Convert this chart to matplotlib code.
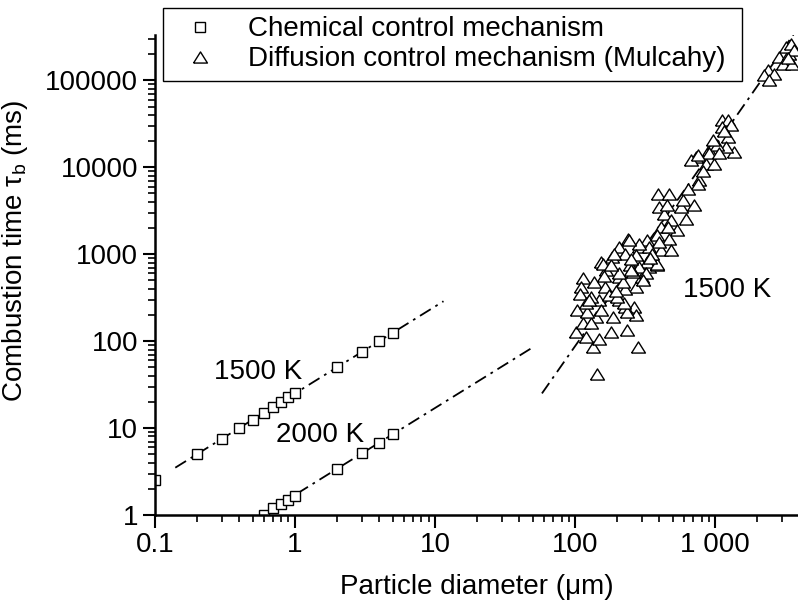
import numpy as np
import matplotlib
matplotlib.use('Agg')
import matplotlib.pyplot as plt
from matplotlib.ticker import LogLocator, FuncFormatter, NullFormatter

plt.rcParams['font.family'] = ['Liberation Sans', 'DejaVu Sans']
plt.rcParams['mathtext.fontset'] = 'custom'
plt.rcParams['mathtext.rm'] = 'Liberation Sans'
plt.rcParams['mathtext.it'] = 'Liberation Sans:italic'

# chemical control, 1500 K
d_1500 = [0.1, 0.2, 0.3, 0.4, 0.5, 0.6, 0.7, 0.8, 0.9, 1, 2, 3, 4, 5]
tau_1500 = [2.5, 5, 7.5, 10, 12.5, 15, 17.5, 20, 22.5, 25, 50, 75, 100, 125]
# chemical control, 2000 K
d_2000 = [0.6, 0.7, 0.8, 0.9, 1, 2, 3, 4, 5]
tau_2000 = [1.0, 1.2, 1.35, 1.5, 1.65, 3.4, 5.1, 6.8, 8.5]

# diffusion control (Mulcahy), 1500 K
d_mul = [143, 280, 135, 102, 119, 147, 180, 236, 263, 104, 113, 113, 110, 108,
         137, 154, 183, 206, 240, 164, 206, 148, 174, 206, 228, 186, 140, 129,
         122, 270, 299, 337, 387, 286, 248, 228, 286, 324, 413, 392, 465, 397,
         432, 455, 484, 413, 387, 166, 129, 119, 270, 228, 728, 670, 906, 984,
         859, 984, 769, 748, 708, 617, 569, 538, 469, 457, 483, 398, 337, 286,
         243, 157, 328, 387, 286, 257, 320, 1127, 1225, 1294, 1127, 1225, 1368,
         1192, 1038, 957, 906, 748, 1068, 2366, 2240, 2640, 2860, 3380, 3200,
         3470, 3030, 3560, 3665, 2430, 153, 236, 224, 200, 218, 303, 250, 206,
         180, 190, 270, 356, 160, 195, 125, 250, 345, 590, 640, 820, 1150, 3300]
tau_mul = [42, 86, 86, 128, 112, 107, 128, 134, 248, 227, 160, 526, 421, 353,
           479, 815, 930, 1213, 1478, 421, 550, 296, 338, 296, 248, 190, 190, 160,
           217, 421, 550, 714, 748, 851, 748, 1018, 1213, 1446, 1111, 4990, 4990, 3500,
           2930, 3660, 2460, 2060, 1652, 655, 323, 271, 199, 403, 13130, 12030, 15670, 18720,
           11040, 11040, 7080, 6460, 3660, 2570, 3500, 1890, 1515, 2060, 1111, 1385, 1213, 1318,
           1446, 780, 815, 780, 714, 626, 600, 34700, 34700, 30400, 29000, 22300, 15000,
           17100, 17900, 20400, 14400, 13700, 14400, 130000, 114000, 119000, 185000, 202000, 241000,
           264000, 156000, 156000, 221000, 100000, 227, 217, 271, 323, 479, 503, 655, 600,
           748, 1018, 975, 1018, 560, 380, 300, 880, 900, 4200, 5600, 9000, 26000, 180000]

# power-law fits tau = k * d^n and the diameter range each is drawn over
fit_1500 = (25.0, 1.0, [0.14, 11.5])
fit_2000 = (1.7, 1.0, [0.5, 48])
fit_mul = (2.2e-3, 2.3, [58, 4000])

fig = plt.figure(figsize=(7.98, 6.08), dpi=100)
ax = fig.add_axes([0.194, 0.153, 0.806, 0.789])

dash = (0, (7, 3, 1.5, 3))
for k, n, rng in (fit_1500, fit_2000, fit_mul):
    dd = np.array(rng, dtype=float)
    ax.plot(dd, k * dd ** n, color='black', lw=1.3, linestyle=dash)

tri = [(-1, -0.8), (1, -0.8), (0, 0.8), (-1, -0.8)]
ax.plot(d_1500, tau_1500, 's', ms=6.5, mfc='white', mec='black', mew=1.0)
ax.plot(d_2000, tau_2000, 's', ms=6.5, mfc='white', mec='black', mew=1.0)
ax.plot(d_mul, tau_mul, linestyle='none', marker=tri, ms=10, mfc='white',
        mec='black', mew=1.0)

ax.set_xscale('log')
ax.set_yscale('log')
ax.set_xlim(0.1, 3900)
ax.set_ylim(1, 3.3e5)

ax.xaxis.set_major_locator(LogLocator(base=10, numticks=20))
ax.xaxis.set_minor_locator(LogLocator(base=10, subs=np.arange(2, 10), numticks=20))
ax.yaxis.set_major_locator(LogLocator(base=10, numticks=20))
ax.yaxis.set_minor_locator(LogLocator(base=10, subs=np.arange(2, 10), numticks=20))
ax.xaxis.set_minor_formatter(NullFormatter())
ax.yaxis.set_minor_formatter(NullFormatter())


def xfmt(v, pos):
    if v < 1:
        return '%g' % v
    return '{:,}'.format(int(round(v))).replace(',', ' ')


ax.xaxis.set_major_formatter(FuncFormatter(xfmt))
ax.yaxis.set_major_formatter(FuncFormatter(lambda v, p: '%d' % round(v)))

for s in ('top', 'right'):
    ax.spines[s].set_visible(False)
for s in ('left', 'bottom'):
    ax.spines[s].set_linewidth(1.8)
ax.tick_params(which='major', direction='out', length=9, width=1.5,
               labelsize=20, pad=3, top=False, right=False)
ax.tick_params(which='minor', direction='out', length=5, width=1.2,
               top=False, right=False)

ax.set_xlabel('Particle diameter (μm)', fontsize=20, labelpad=12)
ax.set_ylabel('Combustion time τ$_\\mathrm{b}$ (ms)', fontsize=20)
ax.yaxis.set_label_coords(-0.194, 0.55)

ax.text(0.55, 44, '1500 K', fontsize=20, ha='center', va='center')
ax.text(1.5, 8.3, '2000 K', fontsize=20, ha='center', va='center')
ax.text(1220, 385, '1500 K', fontsize=20, ha='center', va='center')

h1, = ax.plot([], [], 's', ms=6.5, mfc='white', mec='black', mew=1.0)
h2, = ax.plot([], [], linestyle='none', marker=tri, ms=10, mfc='white',
              mec='black', mew=1.0)
leg = ax.legend([h1, h2], ['Chemical control mechanism',
                           'Diffusion control mechanism (Mulcahy)'],
                loc='upper left', bbox_to_anchor=(0.204, 0.868, 0.726, 0.119),
                bbox_transform=fig.transFigure, mode='expand', fontsize=20,
                frameon=True, fancybox=False, edgecolor='black', framealpha=1,
                handlelength=2.1, handletextpad=0.65, borderpad=0.3,
                labelspacing=0.15, borderaxespad=0)
leg.get_frame().set_linewidth(1.0)

fig.savefig('out.png', dpi=100)
